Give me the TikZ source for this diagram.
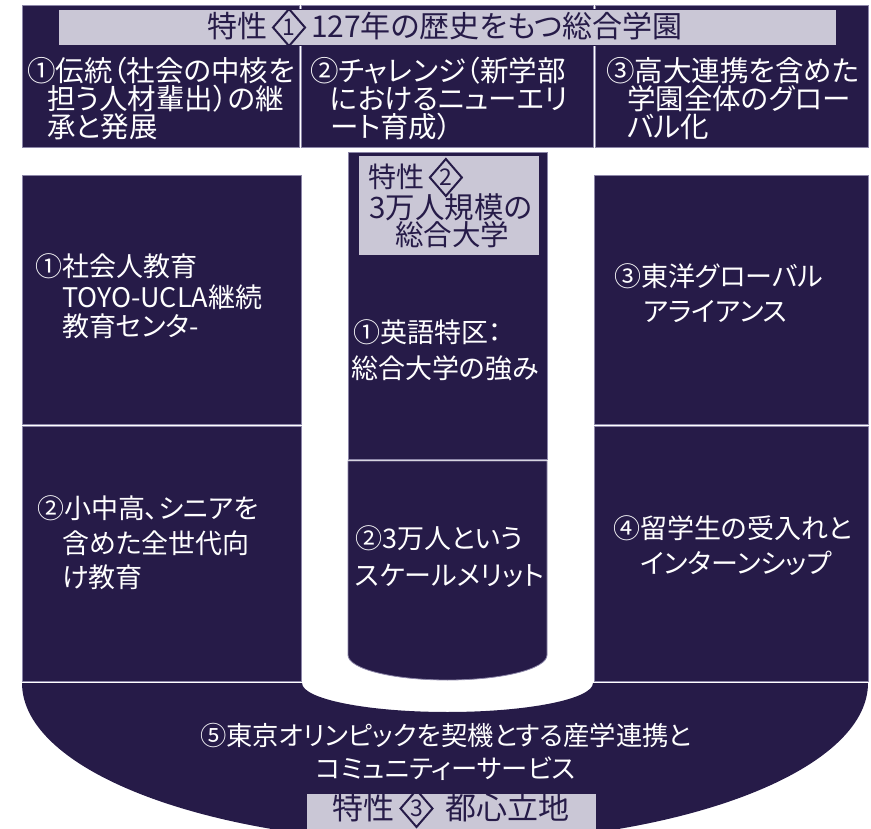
\documentclass[tikz,border=0pt]{standalone}
\usepackage{fontspec}
\setmainfont{Noto Sans CJK JP}[RawFeature=+palt]
\usetikzlibrary{shapes.geometric}
\definecolor{navy}{HTML}{261B48}
\definecolor{edgec}{HTML}{8C86A8}
\definecolor{lgray}{HTML}{CAC7D6}
\newcommand{\tokdia}[1]{\,\tikz[x=1cm,y=1cm,baseline={([yshift=-10.5pt]dd.center)}]{\path[draw=navy,line width=2pt,line join=miter] (-16pt,0pt) -- (0pt,18.5pt) -- (16pt,0pt) -- (0pt,-18.5pt) -- cycle; \node[anchor=center,inner sep=0pt,text=navy] (dd) at (0,0) {\fontsize{23}{23}\selectfont #1};}\,}
\begin{document}
\begin{tikzpicture}[x=1pt,y=-1pt,
  darkbox/.style={fill=navy,draw=edgec,line width=0.8pt},
  graybox/.style={fill=lgray,draw=navy,line width=0.8pt},
  wt/.style={text=white,inner sep=0pt,anchor=base west,font=\fontsize{27}{27}\selectfont},
  wtc/.style={wt,anchor=base},
  wtt/.style={wt,font=\fontsize{28.5}{28.5}\selectfont},
  nt/.style={text=navy,inner sep=0pt,anchor=base west,font=\fontsize{28}{28}\selectfont},
  ntc/.style={nt,anchor=base}]
\useasboundingbox (0,0) rectangle (871,829);
\begin{scope}
\clip (0,0) rectangle (871,829);
% top band
\path[darkbox] (22,5) rectangle (299.5,147);
\path[darkbox] (301.5,5) rectangle (593,147);
\path[darkbox] (595,5) rectangle (868,147);
\path[graybox] (58,9) rectangle (836,45);
% side boxes
\path[darkbox] (22,175) rectangle (301,424);
\path[darkbox] (22,426) rectangle (301,681);
\path[darkbox] (594,175) rectangle (868,424);
\path[darkbox] (594,426) rectangle (868,681);
% center column
\path[darkbox] (348,152) rectangle (547,459);
\path[darkbox] (348,461) -- (348,655) .. controls (348,668.8) and (392.5,680) .. (447.5,680) .. controls (502.5,680) and (547,668.8) .. (547,655) -- (547,461) -- cycle;
\path[graybox] (358,155) rectangle (539,255);
% bottom band
\path[fill=navy] (22,683) -- (302,683) .. controls (302,699) and (367.1,712) .. (447.5,712) .. controls (527.9,712) and (593,699) .. (593,683) -- (868,683) .. controls (868,771.4) and (678.6,843) .. (445,843) .. controls (211.4,843) and (22,771.4) .. (22,683) -- cycle;
\path[graybox] (306,793) rectangle (596,835);
\end{scope}
% title
\node[ntc,font=\fontsize{30}{30}\selectfont] (title) at (445,38) {特性\tokdia{1}127年の歴史をもつ総合学園};
% top row
\node[wtt] (t1a) at (27,82) {①伝統（社会の中核を};
\node[wtt] (t1b) at (47,110) {担う人材輩出）の継};
\node[wtt] (t1c) at (47,138) {承と発展};
\node[wtt] (t2a) at (310,82) {②チャレンジ（新学部};
\node[wtt] (t2b) at (330,110) {におけるニューエリ};
\node[wtt] (t2c) at (330,138) {ート育成）};
\node[wtt] (t3a) at (606,82) {③高大連携を含めた};
\node[wtt] (t3b) at (627,110) {学園全体のグロー};
\node[wtt] (t3c) at (627,138) {バル化};
% characteristic 2
\node[nt] (g2a) at (368,188) {特性\tokdia{2}};
\node[ntc,font=\fontsize{29.5}{29.5}\selectfont] (g2b) at (451,219) {3万人規模の};
\node[ntc,font=\fontsize{28.5}{28.5}\selectfont] (g2c) at (452,246) {総合大学};
% left
\node[wt] (l1a) at (35,277) {①社会人教育};
\node[wt] (l1b) at (62,308) {TOYO-UCLA継続};
\node[wt] (l1c) at (62,337) {教育センタ-};
\node[wt] (l2a) at (37,518) {②小中高、シニアを};
\node[wt] (l2b) at (62,553) {含めた全世代向};
\node[wt] (l2c) at (62,587) {け教育};
% center
\node[wt] (c1a) at (353,342) {①英語特区：};
\node[wt] (c1b) at (351,378) {総合大学の強み};
\node[wt] (c2a) at (355,548) {②3万人という};
\node[wt] (c2b) at (355,585) {スケールメリット};
% right
\node[wt] (r1a) at (614,287) {③東洋グローバル};
\node[wt] (r1b) at (643,322) {アライアンス};
\node[wt] (r2a) at (613,538) {④留学生の受入れと};
\node[wt] (r2b) at (640,573) {インターンシップ};
% bottom
\node[wtc,font=\fontsize{26.3}{26.3}\selectfont] (b1) at (446,745) {⑤東京オリンピックを契機とする産学連携と};
\node[wtc,font=\fontsize{26.3}{26.3}\selectfont] (b2) at (446,778) {コミュニティーサービス};
\node[ntc,font=\fontsize{31}{31}\selectfont] (s3) at (451,819) {特性\tokdia{3}\ 都心立地};
\end{tikzpicture}
\end{document}
